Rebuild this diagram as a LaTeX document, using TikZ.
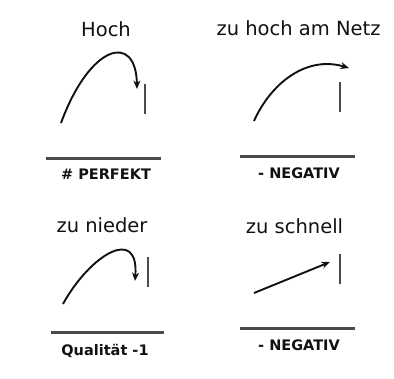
\documentclass[tikz,border=0pt]{standalone}
\usepackage{fontspec}
\setmainfont{DejaVu Sans}
\usetikzlibrary{arrows.meta}
\definecolor{ink}{HTML}{111111}
\definecolor{rule}{HTML}{4A4A4A}
\begin{document}
\begin{tikzpicture}[x=1pt,y=-1pt,
  title/.style={font=\fontsize{19.5}{22}\selectfont, text=ink, inner sep=0pt, anchor=base},
  verdict/.style={font=\fontsize{14.5}{17}\selectfont\bfseries, text=ink, inner sep=0pt},
  flight/.style={ink, line width=1.9pt, -{Stealth[length=8.5pt,width=7pt]}},
  netbar/.style={rule, line width=2pt},
  ground/.style={rule, line width=3pt}]
\useasboundingbox (0,0) rectangle (394,378);
% panel 1
\node[title] (t1) at (106,36) {Hoch};
\coordinate (a1s) at (61,123);
\coordinate (a1e) at (137,89);
\draw[flight] (a1s) .. controls (90,44) and (136,32) .. (a1e);
\coordinate (b1t) at (144.5,84);
\coordinate (b1b) at (144.5,114);
\draw[netbar] (b1t) -- (b1b);
\coordinate (g1l) at (46,158.5);
\coordinate (g1r) at (161,158.5);
\draw[ground] (g1l) -- (g1r);
\node[verdict] (v1) at (106,174.5) {\# PERFEKT};
% panel 2
\node[title] (t2) at (298.5,35) {zu hoch am Netz};
\coordinate (a2s) at (254,121);
\coordinate (a2e) at (349,68);
\draw[flight] (a2s) .. controls (270,85) and (305,55) .. (a2e);
\coordinate (b2t) at (340,82);
\coordinate (b2b) at (340,112);
\draw[netbar] (b2t) -- (b2b);
\coordinate (g2l) at (240,156);
\coordinate (g2r) at (355,156);
\draw[ground] (g2l) -- (g2r);
\node[verdict] (v2) at (299,173) {- NEGATIV};
% panel 3
\node[title] (t3) at (102,232) {zu nieder};
\coordinate (a3s) at (63,304);
\coordinate (a3e) at (135,281);
\draw[flight] (a3s) .. controls (90,255) and (139,225) .. (a3e);
\coordinate (b3t) at (148,257);
\coordinate (b3b) at (148,287);
\draw[netbar] (b3t) -- (b3b);
\coordinate (g3l) at (51,332);
\coordinate (g3r) at (164,332);
\draw[ground] (g3l) -- (g3r);
\node[verdict] (v3) at (105,350.5) {Qualität -1};
% panel 4
\node[title] (t4) at (294.5,233) {zu schnell};
\coordinate (a4s) at (254,293);
\coordinate (a4e) at (330,262);
\draw[flight] (a4s) -- (a4e);
\coordinate (b4t) at (340,254);
\coordinate (b4b) at (340,284);
\draw[netbar] (b4t) -- (b4b);
\coordinate (g4l) at (240,328);
\coordinate (g4r) at (355,328);
\draw[ground] (g4l) -- (g4r);
\node[verdict] (v4) at (299,345) {- NEGATIV};
\end{tikzpicture}
\end{document}
